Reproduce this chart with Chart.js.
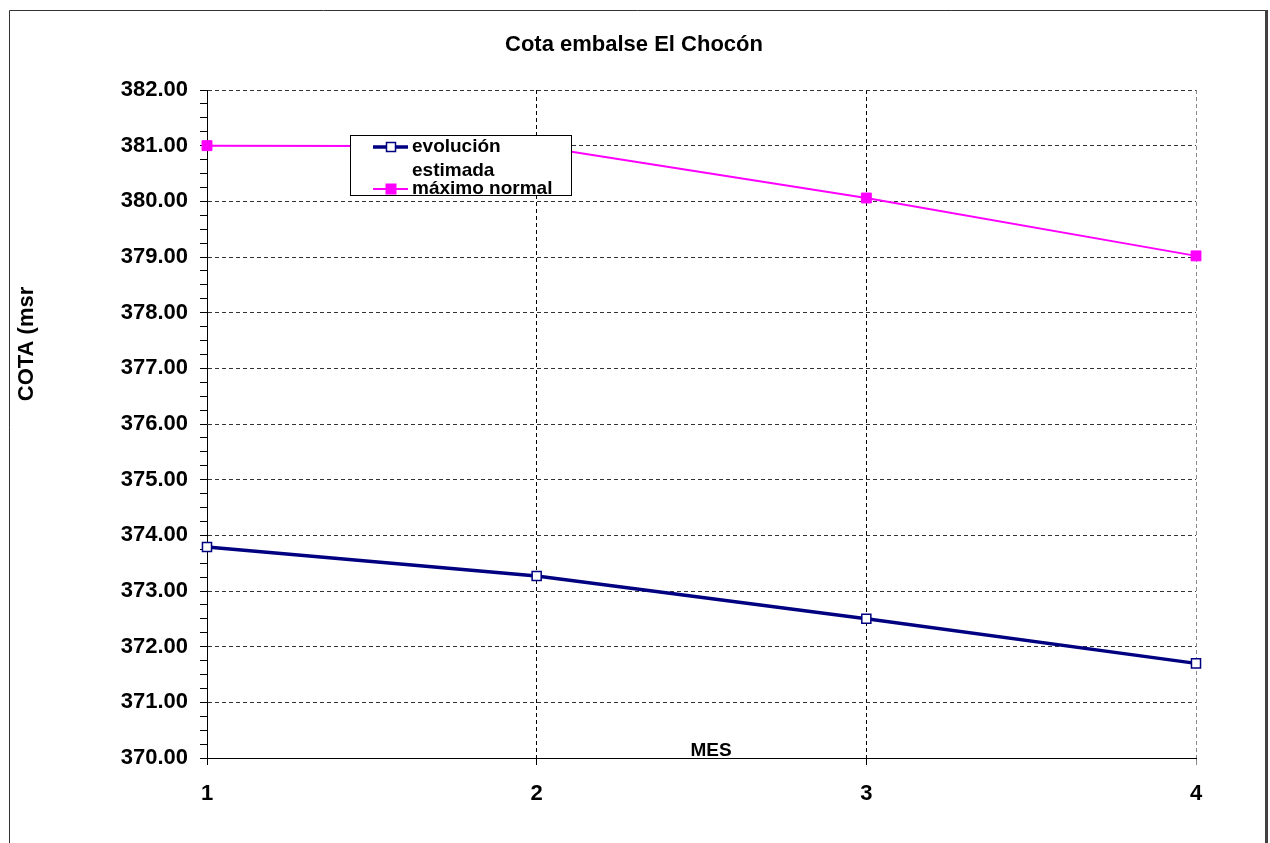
<!DOCTYPE html>
<html>
<head>
<meta charset="utf-8">
<title>Cota embalse El Chocón</title>
<script src="https://cdn.jsdelivr.net/npm/chart.js"></script>
<style>
  html, body { margin: 0; padding: 0; background: #fff; }
  canvas { display: block; }
</style>
</head>
<body>
<canvas id="cotaChart" width="1270" height="843"></canvas>
<script>
// datos
const meses = ['1', '2', '3', '4'];
const evolucionEstimada = [373.79, 373.27, 372.50, 371.70];
const maximoNormal = [381.00, 380.99, 380.06, 379.02];
const cotaMin = 370;
const cotaMax = 382;

const tituloGrafico = 'Cota embalse El Chocón';
const tituloEjeY = 'COTA (msr';
const tituloEjeX = 'MES';
const nombresSeries = [['evolución', 'estimada'], ['máximo normal']];

const AZUL = '#000080';
const MAGENTA = '#FF00FF';
const FONT = 'Arial, "Liberation Sans", sans-serif';

// marco, titulos y leyenda dibujados sobre el canvas
const decoracion = {
  id: 'decoracion',
  beforeDraw(chart) {
    const ctx = chart.ctx;
    ctx.save();
    ctx.fillStyle = '#fff';
    ctx.fillRect(0, 0, chart.width, chart.height);
    ctx.strokeStyle = '#333';
    ctx.lineWidth = 1;
    ctx.beginPath();
    ctx.moveTo(9.5, 850);
    ctx.lineTo(9.5, 10.5);
    ctx.lineTo(1265, 10.5);
    ctx.stroke();
    ctx.lineWidth = 3;
    ctx.strokeStyle = '#404040';
    ctx.beginPath();
    ctx.moveTo(1266.5, 10);
    ctx.lineTo(1266.5, 850);
    ctx.stroke();
    ctx.restore();
  },
  afterDraw(chart) {
    const ctx = chart.ctx;
    ctx.save();
    ctx.fillStyle = '#000';
    ctx.textBaseline = 'middle';

    // titulo
    ctx.font = 'bold 22px ' + FONT;
    ctx.textAlign = 'center';
    ctx.fillText(tituloGrafico, 634, 45);

    // titulo eje Y
    ctx.save();
    ctx.translate(27, 344);
    ctx.rotate(-Math.PI / 2);
    ctx.fillText(tituloEjeY, 0, 0);
    ctx.restore();

    // titulo eje X (queda dentro del area, sobre el eje)
    ctx.font = 'bold 19px ' + FONT;
    ctx.textBaseline = 'alphabetic';
    ctx.fillText(tituloEjeX, 711, 756);

    // leyenda
    const lx = 350.5, ly = 135.5, lw = 221, lh = 60;
    ctx.fillStyle = '#fff';
    ctx.fillRect(lx, ly, lw, lh);
    ctx.strokeStyle = '#000';
    ctx.lineWidth = 1;
    ctx.strokeRect(lx, ly, lw, lh);

    const filas = [147, 189];
    const textoY = [[147, 171], [189]];
    chart.data.datasets.forEach((ds, i) => {
      const y = filas[i];
      ctx.strokeStyle = ds.borderColor;
      ctx.lineWidth = ds.borderWidth;
      ctx.beginPath();
      ctx.moveTo(373, y);
      ctx.lineTo(408, y);
      ctx.stroke();
      const s = i === 0 ? 9 : 10;
      ctx.fillStyle = ds.pointBackgroundColor;
      ctx.fillRect(391 - s / 2, y - s / 2, s, s);
      ctx.strokeStyle = ds.pointBorderColor;
      ctx.lineWidth = ds.pointBorderWidth;
      ctx.strokeRect(391 - s / 2, y - s / 2, s, s);

      ctx.fillStyle = '#000';
      ctx.font = 'bold 19px ' + FONT;
      ctx.textAlign = 'left';
      ctx.textBaseline = 'middle';
      nombresSeries[i].forEach((t, k) => ctx.fillText(t, 412, textoY[i][k]));
    });
    ctx.restore();
  }
};

new Chart(document.getElementById('cotaChart').getContext('2d'), {
  type: 'line',
  data: {
    labels: meses,
    datasets: [{
      label: nombresSeries[0].join(' '),
      data: evolucionEstimada,
      borderColor: AZUL,
      borderWidth: 3.5,
      pointStyle: 'rect',
      pointRadius: 6.4,
      pointBackgroundColor: '#fff',
      pointBorderColor: AZUL,
      pointBorderWidth: 1.5,
      tension: 0,
      clip: false
    }, {
      label: nombresSeries[1].join(' '),
      data: maximoNormal,
      borderColor: MAGENTA,
      borderWidth: 2,
      pointStyle: 'rect',
      pointRadius: 7,
      pointBackgroundColor: MAGENTA,
      pointBorderColor: MAGENTA,
      pointBorderWidth: 1,
      tension: 0,
      clip: false
    }]
  },
  options: {
    responsive: false,
    animation: false,
    layout: { padding: { left: 0, top: 90, right: 74, bottom: 0 } },
    plugins: {
      legend: { display: false },
      title: { display: false },
      tooltip: { enabled: false }
    },
    scales: {
      x: {
        offset: false,
        afterFit: s => { s.height = 85; },
        grid: {
          color: c => c.index === 0 ? 'transparent' : (c.index === 3 ? '#8a8a8a' : '#000'),
          tickColor: c => c.index === 3 ? '#8a8a8a' : '#000',
          tickLength: 7,
          tickWidth: 1,
          lineWidth: 1
        },
        border: { display: true, color: '#000', width: 1, dash: [4, 3] },
        ticks: {
          color: '#000',
          font: { family: FONT, size: 22, weight: 'bold' },
          padding: 16,
          maxRotation: 0
        }
      },
      y: {
        min: cotaMin,
        max: cotaMax,
        afterFit: s => { s.width = 207; },
        grid: {
          color: c => (c.tick && Number.isInteger(c.tick.value) && c.tick.value !== cotaMin) ? '#333' : 'transparent',
          tickColor: '#000',
          tickLength: 7,
          tickWidth: 1,
          lineWidth: 1
        },
        border: { display: true, color: '#000', width: 1, dash: [4, 3] },
        ticks: {
          stepSize: 0.25,
          autoSkip: false,
          color: '#000',
          padding: 12,
          font: { family: FONT, size: 22, weight: 'bold' },
          callback: v => Number.isInteger(v) ? v.toFixed(2) : ''
        }
      }
    }
  },
  plugins: [decoracion]
});
</script>
</body>
</html>
